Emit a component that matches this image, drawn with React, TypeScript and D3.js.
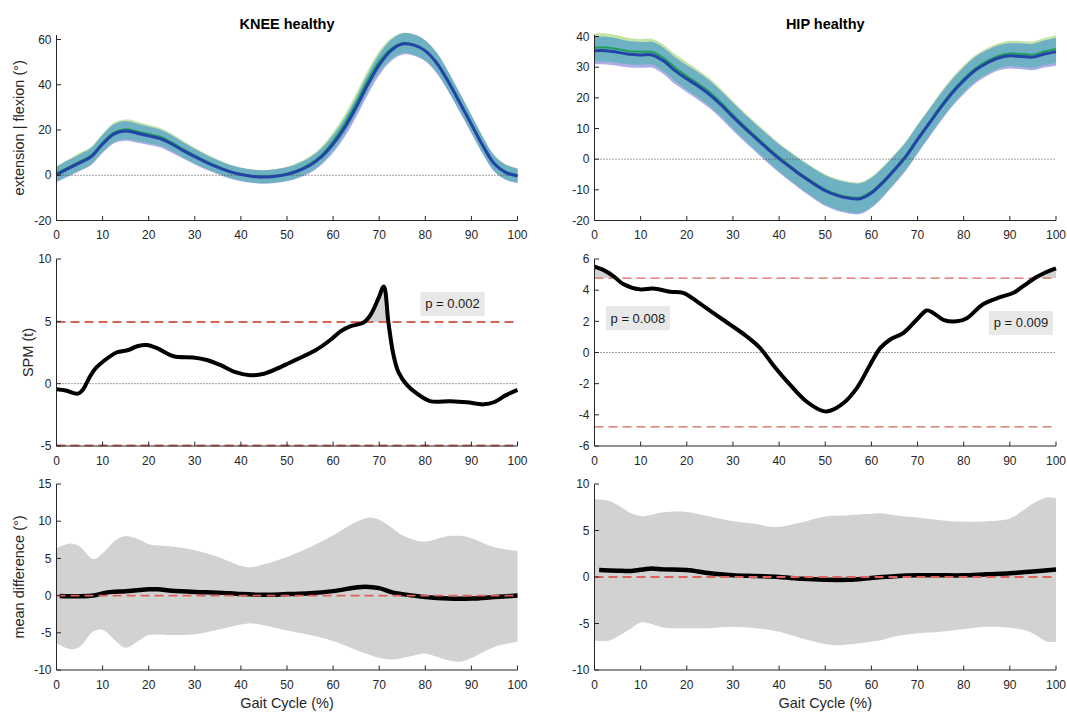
import React from "react";
import * as d3 from "d3";

// ---- data ----
const gaitPct = [0, 2.5, 5, 7.5, 10, 12.5, 15, 17.5, 20, 22.5, 25, 27.5, 30, 32.5, 35, 37.5, 40, 42.5, 45, 47.5, 50, 52.5, 55, 57.5, 60, 62.5, 65, 67.5, 70, 72.5, 75, 77.5, 80, 82.5, 85, 87.5, 90, 92.5, 95, 97.5, 100];

// knee angle, group A (green) and group B (blue)
const kneeMeanA = [0.8, 3.4, 6.0, 8.8, 14.4, 19.0, 20.3, 19.4, 18.2, 17.0, 14.5, 11.5, 8.7, 6.1, 3.9, 1.9, 0.6, -0.3, -0.6, -0.2, 0.7, 2.4, 5.0, 9.0, 15.0, 22.6, 31.8, 41.8, 50.2, 55.8, 58.4, 57.8, 55.2, 49.8, 41.6, 32.3, 22.8, 13.3, 5.3, 1.5, 0.0];
const kneeSdA = [3.4, 3.6, 3.8, 3.8, 4.0, 4.3, 4.4, 4.3, 4.1, 3.9, 3.8, 3.7, 3.5, 3.3, 3.1, 3.0, 2.9, 2.9, 2.9, 3.0, 3.1, 3.3, 3.5, 3.7, 4.0, 4.2, 4.4, 4.5, 4.6, 4.6, 4.5, 4.5, 4.4, 4.3, 4.2, 4.0, 3.9, 3.7, 3.5, 3.3, 3.2];
const kneeMeanB = [0.3, 2.9, 5.5, 8.2, 13.8, 18.3, 19.6, 18.6, 17.4, 16.2, 13.8, 10.9, 8.2, 5.7, 3.5, 1.6, 0.3, -0.5, -0.8, -0.4, 0.4, 2.0, 4.4, 8.2, 13.8, 21.0, 30.0, 40.0, 48.8, 55.0, 58.0, 57.5, 55.0, 49.5, 41.3, 32.0, 22.5, 13.0, 5.0, 1.2, -0.3];
const kneeSdB = [3.4, 3.6, 3.7, 3.8, 4.0, 4.2, 4.3, 4.2, 4.0, 3.9, 3.8, 3.6, 3.4, 3.3, 3.1, 3.0, 2.9, 2.9, 2.9, 3.0, 3.1, 3.2, 3.4, 3.6, 3.9, 4.1, 4.3, 4.5, 4.6, 4.7, 4.7, 4.7, 4.6, 4.5, 4.3, 4.1, 3.9, 3.7, 3.5, 3.3, 3.2];

// hip angle
const hipMeanA = [36.4, 36.4, 35.9, 35.2, 35.0, 35.0, 33.0, 29.8, 27.1, 24.6, 21.8, 18.3, 14.5, 10.8, 7.3, 3.9, 0.6, -2.3, -5.1, -7.6, -9.9, -11.4, -12.3, -12.5, -10.6, -7.2, -3.1, 1.3, 6.8, 12.0, 17.3, 22.1, 26.2, 29.6, 32.0, 33.7, 34.5, 34.3, 34.1, 35.1, 35.9];
const hipSdA = [4.6, 4.6, 4.5, 4.3, 4.2, 4.2, 4.3, 4.4, 4.5, 4.5, 4.5, 4.5, 4.5, 4.5, 4.5, 4.6, 4.6, 4.7, 4.8, 4.9, 5.0, 5.0, 5.0, 5.0, 4.9, 4.8, 4.7, 4.6, 4.6, 4.5, 4.5, 4.5, 4.4, 4.3, 4.2, 4.1, 4.1, 4.2, 4.3, 4.4, 4.5];
const hipMeanB = [35.4, 35.4, 34.9, 34.2, 34.0, 34.0, 32.0, 28.8, 26.2, 23.8, 21.0, 17.6, 13.8, 10.2, 6.8, 3.4, 0.2, -2.7, -5.5, -8.0, -10.3, -11.8, -12.7, -12.9, -11.0, -7.6, -3.5, 0.9, 6.4, 11.6, 16.8, 21.6, 25.6, 29.0, 31.3, 33.0, 33.7, 33.5, 33.3, 34.3, 35.0];
const hipSdB = [4.5, 4.5, 4.4, 4.3, 4.2, 4.2, 4.3, 4.4, 4.4, 4.5, 4.5, 4.5, 4.5, 4.5, 4.5, 4.6, 4.6, 4.7, 4.8, 4.9, 5.0, 5.0, 5.0, 5.0, 4.9, 4.8, 4.7, 4.6, 4.6, 4.5, 4.5, 4.4, 4.4, 4.3, 4.2, 4.1, 4.1, 4.2, 4.3, 4.4, 4.5];

// SPM t statistic  [gait %, t]
const kneeSpm: [number, number][] = [[0, -0.45], [2, -0.55], [4.7, -0.8], [5.8, -0.45], [7, 0.4], [8.4, 1.2], [10.2, 1.8], [13, 2.5], [15.6, 2.7], [17.5, 3.0], [19.6, 3.1], [21.8, 2.85], [25.4, 2.2], [29.7, 2.1], [32.6, 1.9], [35.5, 1.5], [39, 0.9], [42, 0.67], [45, 0.8], [47.8, 1.2], [50.7, 1.7], [53.6, 2.2], [56.5, 2.75], [59.4, 3.5], [61.6, 4.2], [63.7, 4.6], [66.6, 4.9], [68.1, 5.5], [69.9, 6.9], [71, 7.8], [72, 4.9], [73.1, 2.3], [74.2, 0.9], [76, -0.1], [78.2, -0.8], [81, -1.4], [85.4, -1.42], [89, -1.5], [92.7, -1.66], [95, -1.47], [97.4, -0.94], [100, -0.5]];
const hipSpm: [number, number][] = [[0, 5.5], [1.9, 5.3], [4.1, 4.9], [6.2, 4.4], [9.9, 4.05], [12.7, 4.1], [16.4, 3.9], [19.2, 3.83], [22.1, 3.3], [25.7, 2.54], [29.4, 1.79], [33, 1.03], [35.9, 0.28], [38.7, -0.8], [42.4, -2.08], [46, -3.16], [49.6, -3.76], [51, -3.74], [53.9, -3.26], [56.8, -2.3], [59.7, -0.8], [61.9, 0.28], [64, 0.82], [66.9, 1.25], [69.8, 2.1], [72, 2.7], [73.4, 2.54], [75.6, 2.1], [78.5, 2.0], [80.7, 2.2], [84.2, 3.1], [87.9, 3.55], [90.8, 3.83], [92.9, 4.26], [95.8, 4.84], [97.6, 5.12], [100, 5.4]];
const kneeThreshold = 4.95;
const hipThreshold = 4.77;
const kneePLabels = [{ x: 85.9, y: 6.4, text: "p = 0.002" }];
const hipPLabels = [{ x: 9.4, y: 2.2, text: "p = 0.008" }, { x: 92.4, y: 1.9, text: "p = 0.009" }];

// mean difference with limits of agreement
const kneeDiffPct = [0, 3, 5, 8, 10, 13, 15, 18, 20, 25, 30, 35, 40, 42, 45, 50, 55, 60, 65, 68, 70, 73, 75, 78, 80, 85, 87, 88, 90, 95, 100];
const kneeDiffUpper = [6.35, 7.0, 6.6, 4.9, 5.7, 7.5, 8.0, 7.5, 6.9, 6.6, 6.1, 5.2, 4.0, 3.8, 4.2, 5.2, 6.5, 8.1, 9.9, 10.5, 10.2, 9.0, 8.1, 7.4, 7.25, 8.0, 8.05, 8.0, 7.7, 6.5, 6.0];
const kneeDiffLower = [-6.4, -7.2, -6.9, -4.8, -4.6, -6.2, -7.0, -6.0, -5.3, -5.3, -5.2, -4.6, -3.9, -3.7, -4.0, -4.7, -5.3, -6.1, -7.3, -8.0, -8.4, -8.6, -8.4, -8.0, -7.8, -8.7, -8.9, -8.85, -8.4, -6.9, -6.2];
const kneeDiffMeanPct = [0.7, 5, 8, 10, 12, 15, 18, 20, 22, 25, 30, 35, 40, 45, 50, 55, 60, 65, 67, 70, 73, 75, 80, 85, 90, 95, 100];
const kneeDiffMean = [-0.05, -0.1, 0, 0.3, 0.5, 0.6, 0.75, 0.84, 0.84, 0.66, 0.5, 0.4, 0.2, 0.1, 0.2, 0.3, 0.6, 1.1, 1.2, 1.0, 0.4, 0.2, -0.2, -0.4, -0.4, -0.2, 0.0];

const hipDiffPct = [0, 3, 5, 8, 10, 12, 15, 20, 25, 30, 35, 38, 40, 45, 50, 53, 55, 60, 62, 65, 70, 75, 80, 85, 90, 93, 95, 98, 100];
const hipDiffUpper = [8.35, 8.2, 7.75, 6.85, 6.55, 6.65, 6.95, 7.0, 6.5, 6.0, 5.7, 5.4, 5.4, 5.9, 6.5, 6.6, 6.65, 6.8, 6.85, 6.65, 6.4, 6.1, 5.95, 6.0, 6.3, 7.2, 7.9, 8.55, 8.45];
const hipDiffLower = [-6.85, -6.85, -6.4, -5.5, -4.9, -5.0, -5.45, -5.5, -5.5, -5.35, -5.5, -5.7, -5.9, -6.6, -7.2, -7.35, -7.25, -6.95, -6.8, -6.4, -6.05, -5.9, -5.6, -5.35, -5.45, -5.7, -6.05, -6.95, -6.95];
const hipDiffMeanPct = [1, 5, 8, 12, 15, 20, 25, 30, 35, 40, 45, 50, 55, 60, 65, 70, 75, 80, 85, 90, 95, 100];
const hipDiffMean = [0.75, 0.68, 0.65, 0.9, 0.82, 0.75, 0.4, 0.2, 0.1, 0, -0.2, -0.3, -0.3, -0.1, 0.08, 0.18, 0.18, 0.18, 0.3, 0.4, 0.6, 0.8];

// ticks
const xTicks = [0, 10, 20, 30, 40, 50, 60, 70, 80, 90, 100];
const kneeAngleTicks = [-20, 0, 20, 40, 60];
const hipAngleTicks = [-20, -10, 0, 10, 20, 30, 40];
const kneeSpmTicks = [-5, 0, 5, 10];
const hipSpmTicks = [-6, -4, -2, 0, 2, 4, 6];
const kneeDiffTicks = [-10, -5, 0, 5, 10, 15];
const hipDiffTicks = [-10, -5, 0, 5, 10];

// ---- layout / style ----
const FONT = "'Liberation Sans', Arial, Helvetica, sans-serif";
const AX = "#262626";
const cols = { left: [56.5, 517.5], right: [594.5, 1056] };
const rows = { top: [220.5, 35], mid: [446, 259], bot: [670, 484] };
const curve = d3.curveCatmullRom.alpha(0.5);
const RED = "#d9645a";

type Lin = d3.ScaleLinear<number, number>;

const Axes = ({ x, y, yTicks, xLabel }: { x: Lin; y: Lin; yTicks: number[]; xLabel?: string }) => {
  const [x0, x1] = x.range();
  const [yb, yt] = y.range();
  return (
    <g fontFamily={FONT} fill={AX}>
      <path d={`M${x0},${yt}V${yb}H${x1}`} stroke={AX} fill="none" strokeWidth={1} />
      {xTicks.map(t => (
        <g key={"x" + t}>
          <line x1={x(t)} x2={x(t)} y1={yb} y2={yb - 4.5} stroke={AX} />
          <text x={x(t)} y={yb + 14.5} dy="0.35em" textAnchor="middle" fontSize={12}>{t}</text>
        </g>
      ))}
      {yTicks.map(t => (
        <g key={"y" + t}>
          <line x1={x0} x2={x0 + 4.5} y1={y(t)} y2={y(t)} stroke={AX} />
          <text x={x0 - 5} y={y(t)} dy="0.35em" textAnchor="end" fontSize={12}>{t}</text>
        </g>
      ))}
      {xLabel && (
        <text x={(x0 + x1) / 2} y={703} dy="0.35em" textAnchor="middle" fontSize={14.5}>{xLabel}</text>
      )}
    </g>
  );
};

const AnglePanel = ({ col, domain, ticks, meanA, sdA, meanB, sdB, title }: any) => {
  const x = d3.scaleLinear().domain([0, 100]).range(col);
  const y = d3.scaleLinear().domain(domain).range(rows.top);
  const band = (lo: (i: number) => number, hi: (i: number) => number) =>
    d3.area<number>().x(d => x(d)).y0((_, i) => y(lo(i))).y1((_, i) => y(hi(i))).curve(curve)(gaitPct) || "";
  const line = (m: number[]) => d3.line<number>().x(d => x(d)).y((_, i) => y(m[i])).curve(curve)(gaitPct) || "";
  return (
    <g>
      <path d={band(i => meanA[i] - sdA[i], i => meanA[i] + sdA[i])} fill="#c3e4a6" />
      <path d={band(i => meanB[i] - sdB[i], i => meanB[i] + sdB[i])} fill="#adaee6" />
      <path
        d={band(i => Math.max(meanA[i] - sdA[i], meanB[i] - sdB[i]), i => Math.min(meanA[i] + sdA[i], meanB[i] + sdB[i]))}
        fill="#6eb1c2"
      />
      <line x1={x(0)} x2={x(100)} y1={y(0)} y2={y(0)} stroke="#444" strokeDasharray="1 2" />
      <path d={line(meanA)} fill="none" stroke="#1f9e5a" strokeWidth={2} />
      <path d={line(meanB)} fill="none" stroke="#2343a6" strokeWidth={3} />
      <Axes x={x} y={y} yTicks={ticks} />
      <text x={(col[0] + col[1]) / 2} y={24} dy="0.35em" textAnchor="middle" fontFamily={FONT} fontWeight="bold" fontSize={14.5} fill="#000">{title}</text>
    </g>
  );
};

const SpmPanel = ({ col, domain, ticks, spm, thr, labels, id, dashW }: any) => {
  const x = d3.scaleLinear().domain([0, 100]).range(col);
  const y = d3.scaleLinear().domain(domain).range(rows.mid);
  const line = d3.line<[number, number]>().x(d => x(d[0])).y(d => y(d[1])).curve(curve)(spm) || "";
  const area = d3.area<[number, number]>().x(d => x(d[0])).y0(y(thr)).y1(d => y(d[1])).curve(curve)(spm) || "";
  return (
    <g>
      <clipPath id={id}>
        <rect x={col[0]} y={rows.mid[1]} width={col[1] - col[0]} height={y(thr) - rows.mid[1]} />
      </clipPath>
      <path d={area} fill="#d3d3d3" clipPath={`url(#${id})`} />
      <line x1={x(0)} x2={x(100)} y1={y(0)} y2={y(0)} stroke="#444" strokeDasharray="1 2" />
      {[thr, -thr].map(t => (
        <line key={t} x1={x(0)} x2={x(100)} y1={y(t)} y2={y(t)} stroke={RED} strokeWidth={dashW} strokeDasharray="9 5" />
      ))}
      <path d={line} fill="none" stroke="#000" strokeWidth={4} strokeLinejoin="round" />
      {labels.map((l: any) => (
        <g key={l.text}>
          <rect x={x(l.x) - 32} y={y(l.y) - 12} width={64} height={24} fill="#e8e8e8" />
          <text x={x(l.x)} y={y(l.y)} dy="0.35em" textAnchor="middle" fontFamily={FONT} fontSize={13} fill="#1a1a1a">{l.text}</text>
        </g>
      ))}
      <Axes x={x} y={y} yTicks={ticks} />
    </g>
  );
};

const DiffPanel = ({ col, domain, ticks, pct, upper, lower, meanPct, mean }: any) => {
  const x = d3.scaleLinear().domain([0, 100]).range(col);
  const y = d3.scaleLinear().domain(domain).range(rows.bot);
  const band = d3.area<number>().x(d => x(d)).y0((_, i) => y(lower[i])).y1((_, i) => y(upper[i])).curve(curve)(pct) || "";
  const line = d3.line<number>().x(d => x(d)).y((_, i) => y(mean[i])).curve(curve)(meanPct) || "";
  return (
    <g>
      <path d={band} fill="#d2d2d2" />
      <path d={line} fill="none" stroke="#000" strokeWidth={4.5} strokeLinejoin="round" />
      <line x1={x(0)} x2={x(100)} y1={y(0)} y2={y(0)} stroke={RED} strokeWidth={1.8} strokeDasharray="9 5" />
      <Axes x={x} y={y} yTicks={ticks} xLabel="Gait Cycle (%)" />
    </g>
  );
};

const YLabel = ({ x, y, text }: { x: number; y: number; text: string }) => (
  <text transform={`translate(${x},${y}) rotate(-90)`} dy="0.35em" textAnchor="middle" fontFamily={FONT} fontSize={14.5} fill={AX}>{text}</text>
);

export default function App() {
  return (
    <svg width={1067} height={712} style={{ position: "absolute", left: 0, top: 0, background: "#fff" }}>
      <AnglePanel col={cols.left} domain={[-20, 62]} ticks={kneeAngleTicks} meanA={kneeMeanA} sdA={kneeSdA} meanB={kneeMeanB} sdB={kneeSdB} title="KNEE healthy" />
      <AnglePanel col={cols.right} domain={[-20, 40.5]} ticks={hipAngleTicks} meanA={hipMeanA} sdA={hipSdA} meanB={hipMeanB} sdB={hipSdB} title="HIP healthy" />
      <SpmPanel col={cols.left} domain={[-5, 10]} ticks={kneeSpmTicks} spm={kneeSpm} thr={kneeThreshold} labels={kneePLabels} id="clipKnee" dashW={2} />
      <SpmPanel col={cols.right} domain={[-6, 6]} ticks={hipSpmTicks} spm={hipSpm} thr={hipThreshold} labels={hipPLabels} id="clipHip" dashW={1.3} />
      <DiffPanel col={cols.left} domain={[-10, 15]} ticks={kneeDiffTicks} pct={kneeDiffPct} upper={kneeDiffUpper} lower={kneeDiffLower} meanPct={kneeDiffMeanPct} mean={kneeDiffMean} />
      <DiffPanel col={cols.right} domain={[-10, 10]} ticks={hipDiffTicks} pct={hipDiffPct} upper={hipDiffUpper} lower={hipDiffLower} meanPct={hipDiffMeanPct} mean={hipDiffMean} />
      <YLabel x={19} y={(rows.top[0] + rows.top[1]) / 2} text="extension | flexion (°)" />
      <YLabel x={27.5} y={(rows.mid[0] + rows.mid[1]) / 2} text="SPM (t)" />
      <YLabel x={19} y={(rows.bot[0] + rows.bot[1]) / 2} text="mean difference (°)" />
    </svg>
  );
}
